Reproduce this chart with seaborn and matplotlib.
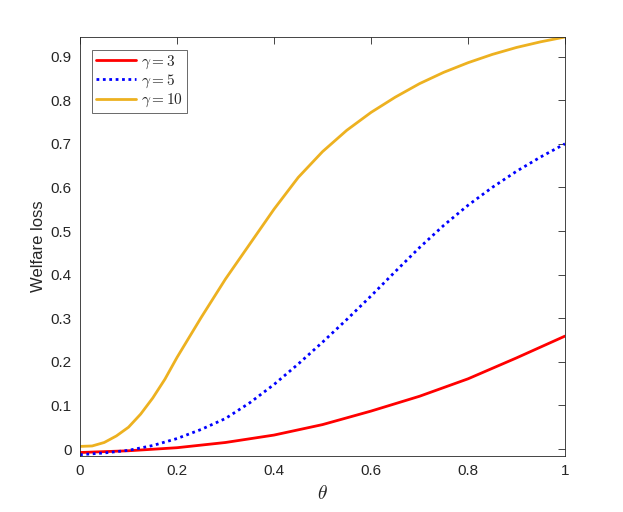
import numpy as np
import pandas as pd
import matplotlib
matplotlib.use("Agg")
import matplotlib.pyplot as plt
import seaborn as sns

theta_fine = [0.0, 0.025, 0.05, 0.075, 0.1, 0.125, 0.15, 0.175, 0.2, 0.25, 0.3, 0.35, 0.4, 0.45,
              0.5, 0.55, 0.6, 0.65, 0.7, 0.75, 0.8, 0.85, 0.9, 0.95, 1.0]
loss_g10 = [0.006, 0.007, 0.015, 0.030, 0.050, 0.080, 0.117, 0.160, 0.210, 0.302, 0.390, 0.470,
            0.550, 0.623, 0.682, 0.731, 0.772, 0.807, 0.838, 0.864, 0.886, 0.905, 0.921, 0.934, 0.945]

theta_mid = [0.0, 0.05, 0.1, 0.15, 0.2, 0.25, 0.3, 0.35, 0.4, 0.45, 0.5, 0.55, 0.6, 0.65, 0.7,
             0.75, 0.8, 0.85, 0.9, 0.95, 1.0]
loss_g5 = [-0.013, -0.009, -0.003, 0.008, 0.024, 0.045, 0.070, 0.106, 0.148, 0.195, 0.245, 0.297,
           0.351, 0.407, 0.462, 0.513, 0.559, 0.600, 0.637, 0.670, 0.700]

theta_coarse = [0.0, 0.1, 0.2, 0.3, 0.4, 0.5, 0.6, 0.7, 0.8, 0.9, 1.0]
loss_g3 = [-0.008, -0.004, 0.003, 0.015, 0.032, 0.056, 0.087, 0.121, 0.161, 0.209, 0.259]

labels = [r"$\gamma = 3$", r"$\gamma = 5$", r"$\gamma = 10$"]
xticks = [0, 0.2, 0.4, 0.6, 0.8, 1]
yticks = [0, 0.1, 0.2, 0.3, 0.4, 0.5, 0.6, 0.7, 0.8, 0.9]

sns.set_style("white")
plt.rcParams["font.family"] = ["Liberation Sans", "DejaVu Sans"]
plt.rcParams["mathtext.fontset"] = "cm"

fig = plt.figure(figsize=(6.23, 5.12), dpi=100)
ax = fig.add_axes([80 / 623, 1 - 456 / 512, 485 / 623, 419 / 512])

df3 = pd.DataFrame({"theta": theta_coarse, "loss": loss_g3})
df5 = pd.DataFrame({"theta": theta_mid, "loss": loss_g5})
df10 = pd.DataFrame({"theta": theta_fine, "loss": loss_g10})

sns.lineplot(data=df3, x="theta", y="loss", ax=ax, color="#FF0000", lw=2.0, label=labels[0])
sns.lineplot(data=df5, x="theta", y="loss", ax=ax, color="#0000FF", lw=2.0, label=labels[1],
             linestyle=(0, (1, 1.3)))
sns.lineplot(data=df10, x="theta", y="loss", ax=ax, color="#EDB120", lw=2.0, label=labels[2])

ax.set_xlim(0, 1)
ax.set_ylim(-0.016, 0.945)
ax.set_xticks(xticks)
ax.set_xticklabels(["0", "0.2", "0.4", "0.6", "0.8", "1"])
ax.set_yticks(yticks)
ax.set_yticklabels([f"{v:g}" for v in yticks])

edge = "#262626"
for s in ax.spines.values():
    s.set_visible(True)
    s.set_color(edge)
    s.set_linewidth(0.6)
ax.tick_params(direction="in", length=5, width=0.6, color=edge, labelcolor=edge,
               labelsize=11, top=True, right=True, pad=6)

ax.set_xlabel(r"$\theta$", fontsize=14, color=edge, labelpad=5)
ax.set_ylabel("Welfare loss", fontsize=12, color=edge, labelpad=3)

leg = ax.legend(loc="upper left", bbox_to_anchor=(0.025, 0.97), fontsize=11,
                frameon=True, fancybox=False, edgecolor=edge, borderpad=0.25,
                handlelength=2.6, labelspacing=0.12, handletextpad=0.35, borderaxespad=0)
leg.get_frame().set_linewidth(0.6)

fig.savefig("out.png", dpi=100)
